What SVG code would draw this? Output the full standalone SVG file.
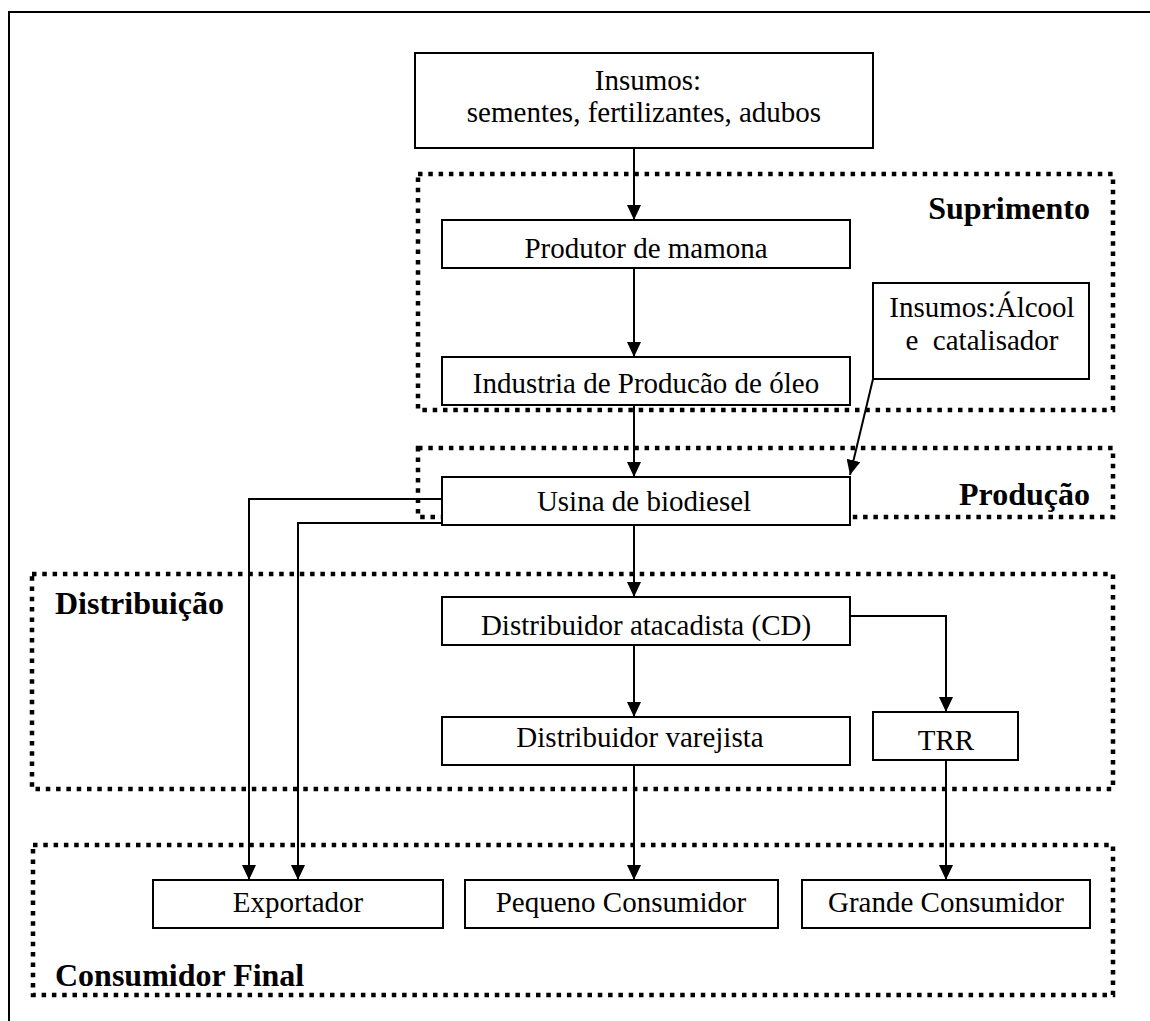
<svg xmlns="http://www.w3.org/2000/svg" width="1150" height="1021" viewBox="0 0 1150 1021">
<style>
.box{fill:#fff;stroke:#000;stroke-width:2}
.zone{fill:none;stroke:#000;stroke-width:4.5;stroke-dasharray:4.5 5.8}
.t{font-family:"Liberation Serif","Times New Roman",serif;font-size:29px;fill:#000;text-anchor:middle}
.lbl{font-family:"Liberation Serif","Times New Roman",serif;font-size:32px;font-weight:bold;fill:#000}
.c{fill:none;stroke:#000;stroke-width:2}
</style>
<defs>
<marker id="ah" viewBox="0 0 15 14" refX="15" refY="7" markerWidth="15" markerHeight="14" markerUnits="userSpaceOnUse" orient="auto">
<path d="M0,0 L15,7 L0,14 z" fill="#000"/>
</marker>
</defs>
<rect x="0" y="0" width="1150" height="1021" fill="#fff"/>
<rect x="9" y="12" width="1200" height="1100" fill="none" stroke="#000" stroke-width="2"/>

<g id="zones">
<rect id="zone-suprimento" class="zone" x="418" y="174" width="695" height="236"/>
<rect id="zone-producao" class="zone" x="418" y="448" width="695" height="69"/>
<rect id="zone-distribuicao" class="zone" x="32" y="574" width="1081" height="215"/>
<rect id="zone-consumidor" class="zone" x="33" y="845" width="1080" height="150"/>
<text class="lbl" x="1090" y="219" text-anchor="end">Suprimento</text>
<text class="lbl" x="1090" y="505" text-anchor="end">Produção</text>
<text class="lbl" x="55" y="614">Distribuição</text>
<text class="lbl" x="55" y="986">Consumidor Final</text>
</g>

<g id="connectors">
<line class="c" x1="634" y1="148" x2="634" y2="220" marker-end="url(#ah)"/>
<line class="c" x1="634" y1="268" x2="634" y2="357" marker-end="url(#ah)"/>
<line class="c" x1="634" y1="405" x2="634" y2="477" marker-end="url(#ah)"/>
<line class="c" x1="873" y1="379" x2="850" y2="475" marker-end="url(#ah)"/>
<line class="c" x1="634" y1="525" x2="634" y2="597" marker-end="url(#ah)"/>
<polyline class="c" points="442,499 249,499 249,880" marker-end="url(#ah)"/>
<polyline class="c" points="442,523 298,523 298,880" marker-end="url(#ah)"/>
<line class="c" x1="634" y1="645" x2="634" y2="717" marker-end="url(#ah)"/>
<polyline class="c" points="850,616 946,616 946,712" marker-end="url(#ah)"/>
<line class="c" x1="634" y1="765" x2="634" y2="880" marker-end="url(#ah)"/>
<line class="c" x1="946" y1="760" x2="946" y2="880" marker-end="url(#ah)"/>
</g>

<g id="insumos">
<rect class="box" x="415" y="53" width="458" height="95"/>
<text class="t" x="648" y="90">Insumos:</text>
<text class="t" x="644" y="122">sementes, fertilizantes, adubos</text>
</g>
<g id="produtor">
<rect class="box" x="442" y="220" width="408" height="48"/>
<text class="t" x="646" y="258">Produtor de mamona</text>
</g>
<g id="industria">
<rect class="box" x="442" y="357" width="408" height="48"/>
<text class="t" x="646" y="393">Industria de Producão de óleo</text>
</g>
<g id="insumos-alcool">
<rect class="box" x="873" y="283" width="216" height="96"/>
<text class="t" x="982" y="317">Insumos:Álcool</text>
<text class="t" x="982" y="350" xml:space="preserve">e  catalisador</text>
</g>
<g id="usina">
<rect class="box" x="442" y="477" width="408" height="48"/>
<text class="t" x="644" y="511">Usina de biodiesel</text>
</g>
<g id="atacadista">
<rect class="box" x="442" y="597" width="408" height="48"/>
<text class="t" x="646" y="635">Distribuidor atacadista (CD)</text>
</g>
<g id="varejista">
<rect class="box" x="442" y="717" width="408" height="48"/>
<text class="t" x="640" y="747">Distribuidor varejista</text>
</g>
<g id="trr">
<rect class="box" x="873" y="712" width="145" height="48"/>
<text class="t" x="946" y="750">TRR</text>
</g>
<g id="exportador">
<rect class="box" x="153" y="880" width="290" height="48"/>
<text class="t" x="298" y="912">Exportador</text>
</g>
<g id="pequeno">
<rect class="box" x="465" y="880" width="313" height="48"/>
<text class="t" x="621" y="912">Pequeno Consumidor</text>
</g>
<g id="grande">
<rect class="box" x="802" y="880" width="288" height="48"/>
<text class="t" x="946" y="912">Grande Consumidor</text>
</g>
</svg>
